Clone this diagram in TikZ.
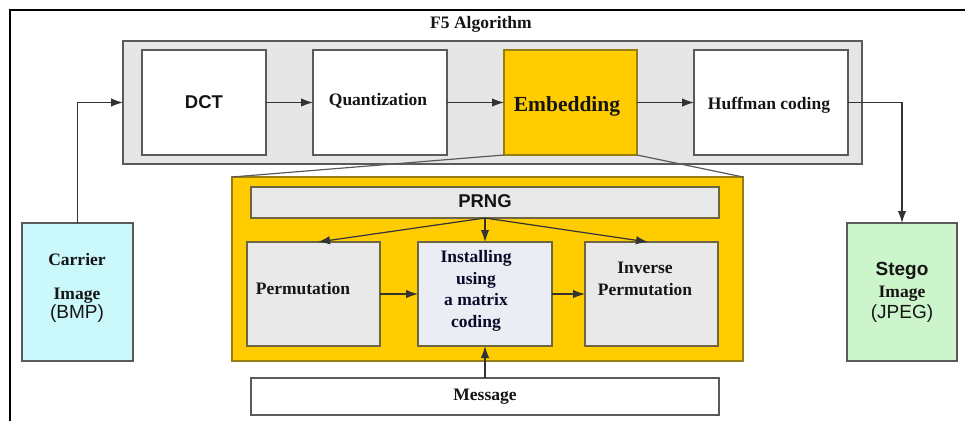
\documentclass[tikz,border=0pt]{standalone}
\usepackage{fontspec}
\setmainfont{Liberation Serif}
\setsansfont{Liberation Sans}
\usetikzlibrary{arrows.meta}

\definecolor{panelgray}{HTML}{E6E6E6}
\definecolor{boxline}{HTML}{5A5A5A}
\definecolor{gold}{HTML}{FFCC00}
\definecolor{goldline}{HTML}{9A7D10}
\definecolor{innerline}{HTML}{6E6640}
\definecolor{innerfill}{HTML}{E9E9E9}
\definecolor{lavender}{HTML}{ECECF5}
\definecolor{carrierfill}{HTML}{CBF8FB}
\definecolor{stegofill}{HTML}{CDF5CB}
\definecolor{wireclr}{HTML}{333333}
\definecolor{inkclr}{HTML}{151515}

\tikzset{
  x=1pt, y=-1pt,
  box/.style={draw=boxline, line width=1.3pt, fill=white, inner sep=0pt, outer sep=0pt, text=inkclr},
  innerbox/.style={box, draw=innerline, fill=innerfill},
  serifbold/.style={font=\fontsize{17.5}{21.5}\selectfont\bfseries, text=inkclr, align=center, inner sep=0pt},
  sansbold/.style={font=\fontsize{18.5}{22}\selectfont\sffamily\bfseries, text=inkclr, align=center, inner sep=0pt},
  wire/.style={draw=wireclr, line width=1.2pt},
  arr/.style={wire, -{Latex[length=12pt,width=8.5pt]}},
}

\begin{document}
\begin{tikzpicture}
\useasboundingbox (0,0) rectangle (965,421);

% frame edges
\draw[line width=2.2pt, black] (10,421) -- (10,10) -- (965,10);

% title
\node[serifbold] (title) at (481,24) {F5 Algorithm};

% F5 pipeline panel
\node[box, fill=panelgray, minimum width=739pt, minimum height=123pt] (f5) at (492.5,102.5) {};
\node[box, minimum width=124pt, minimum height=105pt] (dct) at (204,102.5) {};
\node[sansbold] (dcttxt) at (204,102.5) {DCT};
\node[box, minimum width=134pt, minimum height=105pt] (quant) at (380,102.5) {};
\node[serifbold] (quanttxt) at (378,101) {Quantization};
\node[box, fill=gold, draw=goldline, minimum width=133pt, minimum height=105pt] (embed) at (570.5,102.5) {};
\node[serifbold, font=\fontsize{21.5}{25}\selectfont\bfseries] (embedtxt) at (567,106) {Embedding};
\node[box, minimum width=154pt, minimum height=105pt] (huff) at (771,102.5) {};
\node[serifbold] (hufftxt) at (769,105) {Huffman coding};

% carrier and stego images
\node[box, fill=carrierfill, minimum width=111pt, minimum height=138pt] (carrier) at (77.5,292) {};
\node[serifbold, font=\fontsize{17.5}{20}\selectfont] (carriertxt) at (77,288)
  {\bfseries Carrier\\[14pt]\bfseries Image\\[-1pt]\sffamily\fontsize{19}{20}\selectfont (BMP)};
\node[box, fill=stegofill, minimum width=110pt, minimum height=138pt] (stego) at (902,292) {};
\node[serifbold, font=\fontsize{17.5}{20}\selectfont] (stegotxt) at (902,292)
  {\sffamily\bfseries\fontsize{19}{20}\selectfont Stego\\[2pt]\bfseries Image\\[1pt]\sffamily\fontsize{19}{20}\selectfont (JPEG)};

% embedding detail
\node[box, fill=gold, draw=goldline, minimum width=511pt, minimum height=184pt] (detail) at (487.5,269) {};
\draw[wire, draw=boxline] (embed.south west) -- (detail.north west);
\draw[wire, draw=boxline] (embed.south east) -- (detail.north east);

\node[innerbox, minimum width=468pt, minimum height=31pt] (prng) at (485,202.5) {};
\node[sansbold] (prngtxt) at (485,201) {PRNG};
\node[innerbox, minimum width=133pt, minimum height=104pt] (perm) at (313.5,294) {};
\node[serifbold] (permtxt) at (303,289) {Permutation};
\node[innerbox, fill=lavender, minimum width=134pt, minimum height=104pt] (inst) at (485,294) {};
\node[serifbold, font=\fontsize{17.5}{21.7}\selectfont\bfseries, text={inkclr!80!blue!60!black}] (insttxt) at (476,291)
  {Installing\\using\\a matrix\\coding};
\node[innerbox, minimum width=133pt, minimum height=104pt] (inv) at (651.5,294) {};
\node[serifbold] (invtxt) at (645,279) {Inverse\\Permutation};

\node[box, minimum width=468pt, minimum height=37pt] (msg) at (485,396.5) {};
\node[serifbold] (msgtxt) at (485,397) {Message};

% connectors
\coordinate (carrierup) at (carrier.north |- f5.west);
\draw[arr] (carrier.north) -- (carrierup) -- (f5.west);
\draw[arr] (dct.east) -- (quant.west);
\draw[arr] (quant.east) -- (embed.west);
\draw[arr] (embed.east) -- (huff.west);
\coordinate (huffturn) at (stego.north |- huff.east);
\draw[arr] (huff.east) -- (huffturn) -- (stego.north);

\draw[arr] (prng.south) -- ([xshift=4.5pt]perm.north);
\draw[arr] (prng.south) -- (inst.north);
\draw[arr] (prng.south) -- ([xshift=-3.5pt]inv.north);
\draw[arr] (perm.east) -- (inst.west);
\draw[arr] (inst.east) -- (inv.west);
\draw[arr] (msg.north) -- (inst.south);
\end{tikzpicture}
\end{document}
